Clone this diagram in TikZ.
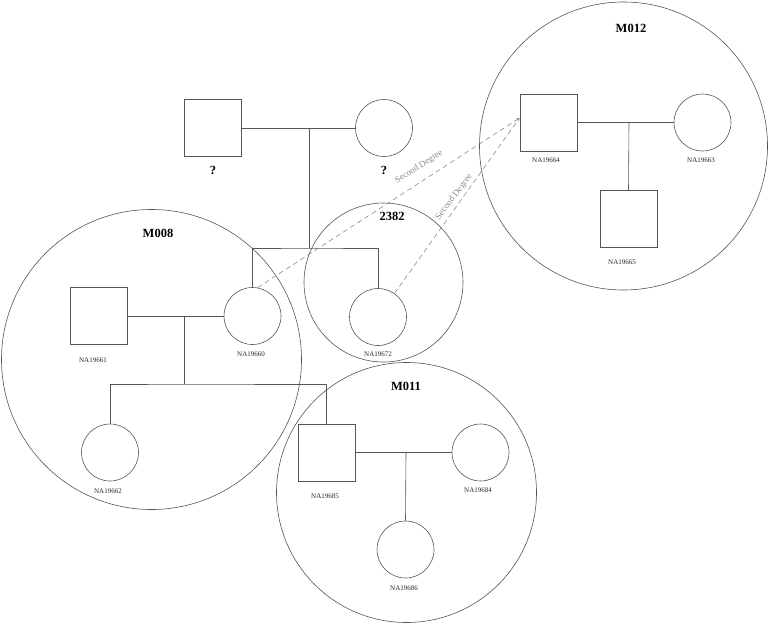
\documentclass[tikz,border=0pt]{standalone}
\usepackage{fontspec}
\setmainfont{Liberation Serif}
\usepackage{xcolor}
\usetikzlibrary{arrows.meta,positioning,calc}
\definecolor{LineGray}{HTML}{555555}
\definecolor{LinkGray}{HTML}{8A8A8A}
\tikzset{
  male/.style={draw=LineGray, rectangle, minimum size=57pt, inner sep=0pt, line width=0.6pt},
  female/.style={draw=LineGray, circle, minimum size=57pt, inner sep=0pt, line width=0.6pt},
  family/.style={draw=LineGray, circle, inner sep=0pt, line width=0.6pt},
  idlabel/.style={font=\fontsize{7}{8}\selectfont, text=black!85},
  famlabel/.style={font=\fontsize{12.5}{14}\selectfont\bfseries},
  kin/.style={draw=LineGray, line width=0.6pt},
  relation/.style={draw=LinkGray, line width=0.6pt, dash pattern=on 5pt off 3.5pt, -{Stealth[length=3pt, width=2.5pt]}},
  rellabel/.style={font=\fontsize{9}{10}\selectfont, text=LinkGray}
}

\begin{document}
\begin{tikzpicture}[x=1pt, y=-1pt]
\useasboundingbox (0,0) rectangle (768,624);

\node[family, minimum size=300pt] (m008) at (151.5,359.5) {};
\node[family, minimum size=159pt] (f2382) at (383.5,282.5) {};
\node[family, minimum size=288pt] (m012) at (623.5,146) {};
\node[family, minimum size=260pt] (m011) at (406.5,492.5) {};

\node[famlabel] (m008lab) at (158,233) {M008};
\node[famlabel] (f2382lab) at (392,216) {2382};
\node[famlabel] (m012lab) at (631,28) {M012};
\node[famlabel] (m011lab) at (406,386) {M011};

\node[male] (fa) at (213,128) {};
\node[female] (mo) at (384,128) {};
\node[famlabel] (falab) at (213,170) {?};
\node[famlabel] (molab) at (384,170) {?};

\node[male] (n19661) at (98.5,316) {};
\node[female] (n19660) at (252.5,316) {};
\node[female] (n19672) at (378,317) {};
\node[female] (n19662) at (110,452.5) {};
\node[male] (n19685) at (326.5,452.5) {};
\node[female] (n19684) at (480.5,452.5) {};
\node[female] (n19686) at (405.5,549.5) {};
\node[male] (n19664) at (548.5,122.5) {};
\node[female] (n19663) at (702.5,122.5) {};
\node[male] (n19665) at (628.5,219) {};

\node[idlabel] (l19661) at (93,360) {NA19661};
\node[idlabel] (l19660) at (251,354) {NA19660};
\node[idlabel] (l19672) at (378,354) {NA19672};
\node[idlabel] (l19662) at (108,491) {NA19662};
\node[idlabel] (l19685) at (325,496) {NA19685};
\node[idlabel] (l19684) at (478,490) {NA19684};
\node[idlabel] (l19686) at (404,588) {NA19686};
\node[idlabel] (l19664) at (546,160) {NA19664};
\node[idlabel] (l19663) at (701,160) {NA19663};
\node[idlabel] (l19665) at (622,262) {NA19665};

\coordinate (c0) at (309,128);
\coordinate (s0) at (309,248);
\coordinate (c1) at (184,316);
\coordinate (s1) at (184,384);
\coordinate (c2) at (406,452.5);
\coordinate (c3) at (629,122.5);
\coordinate (hit) at (519.5,118);

\draw[kin] (fa) -- (mo);
\draw[kin] (c0) -- (s0);
\draw[kin] (n19660.north) |- (s0) -| (n19672.north);
\draw[kin] (n19661) -- (n19660);
\draw[kin] (c1) -- (s1);
\draw[kin] (n19662.north) |- (s1) -| (n19685.north);
\draw[kin] (n19685) -- (n19684);
\draw[kin] (c2) -- (n19686.north);
\draw[kin] (n19664) -- (n19663);
\draw[kin] (c3) -- (n19665.north);

\draw[relation] (n19660.80) -- (hit);
\draw[relation] (n19672.55) -- (hit);
\node[rellabel, rotate=33] (deg1) at (419,167) {Second Degree};
\node[rellabel, rotate=53] (deg2) at (454,197) {Second Degree};
\end{tikzpicture}
\end{document}
